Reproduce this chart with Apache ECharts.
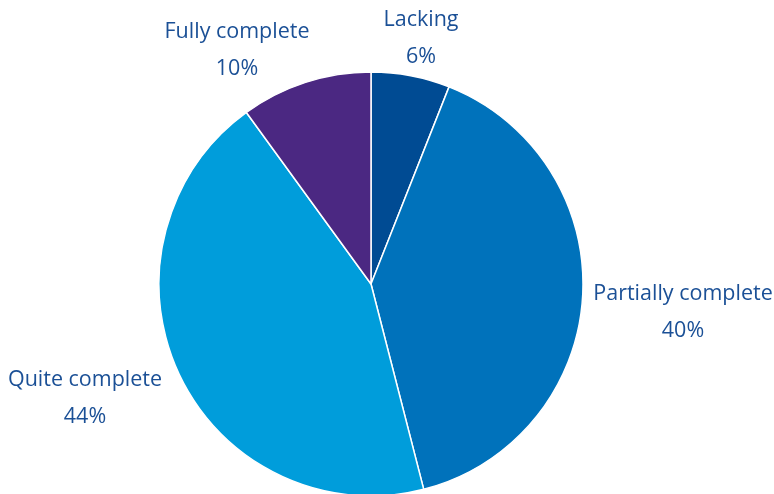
<!DOCTYPE html>
<html><head><meta charset="utf-8">
<script src="https://cdn.jsdelivr.net/npm/echarts@6/dist/echarts.min.js"></script>
<style>html,body{margin:0;padding:0;background:#fff}#c{width:774px;height:494px}</style>
</head><body><div id="c"></div>
<script>
const categories = ['Lacking', 'Partially complete', 'Quite complete', 'Fully complete'];
const values = [6, 40, 44, 10];
const colors = ['#004B93', '#0072BB', '#009DDB', '#4B2882'];
// label block centres (layout only)
const labelAnchors = [[421, 38], [683, 312], [85, 398], [237, 50]];
const chart = echarts.init(document.getElementById('c'));
chart.setOption({
  animation: false,
  series: [{
    type: 'pie',
    center: [371, 284],
    radius: 212,
    startAngle: 90,
    clockwise: true,
    data: categories.map((n, i) => ({ name: n, value: values[i], itemStyle: { color: colors[i] } })),
    itemStyle: { borderColor: '#fff', borderWidth: 1.5 },
    label: {
      show: true,
      position: 'outside',
      formatter: '{b}\n{c}%',
      color: '#1B5096',
      fontSize: 21.5,
      fontFamily: 'Open Sans',
      lineHeight: 37,
      align: 'center',
      overflow: 'none'
    },
    labelLine: { show: false },
    labelLayout: function (p) {
      const a = labelAnchors[p.dataIndex];
      return { x: a[0], y: a[1], align: 'center', verticalAlign: 'middle', hideOverlap: false };
    }
  }]
});
</script></body></html>
